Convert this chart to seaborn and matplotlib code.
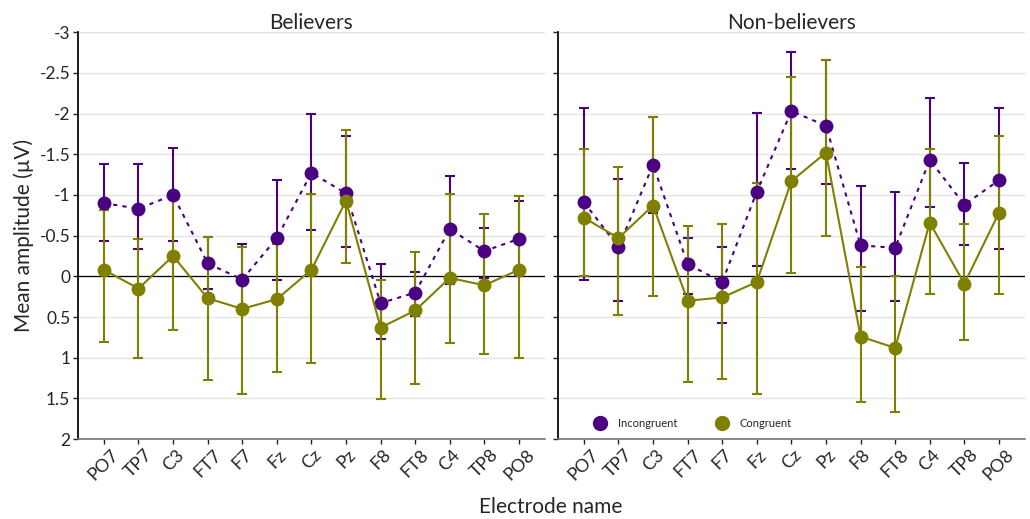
import numpy as np
import pandas as pd
import matplotlib
matplotlib.use("Agg")
import matplotlib.pyplot as plt
import seaborn as sns

electrodes = ["PO7", "TP7", "C3", "FT7", "F7", "Fz", "Cz", "Pz", "F8", "FT8", "C4", "TP8", "PO8"]

# Believers
bel_incong = [-0.90, -0.83, -1.00, -0.16, 0.04, -0.47, -1.27, -1.02, 0.33, 0.20, -0.58, -0.31, -0.46]
bel_incong_lo = [-1.38, -1.38, -1.58, -0.48, -0.40, -1.18, -2.00, -1.72, -0.15, -0.05, -1.23, -0.59, -0.93]
bel_incong_hi = [-0.44, -0.34, -0.44, 0.15, 0.45, 0.05, -0.57, -0.36, 0.77, 0.49, 0.10, 0.02, 0.00]
bel_cong = [-0.08, 0.15, -0.25, 0.27, 0.40, 0.28, -0.08, -0.93, 0.63, 0.42, 0.02, 0.11, -0.08]
bel_cong_lo = [-0.82, -0.46, -1.04, -0.48, -0.36, -0.40, -1.01, -1.80, 0.04, -0.30, -1.01, -0.76, -0.99]
bel_cong_hi = [0.81, 1.00, 0.66, 1.27, 1.45, 1.17, 1.06, -0.16, 1.51, 1.32, 0.82, 0.95, 1.00]

# Non-believers
non_incong = [-0.91, -0.36, -1.37, -0.15, 0.07, -1.04, -2.03, -1.85, -0.38, -0.35, -1.43, -0.88, -1.18]
non_incong_lo = [-2.07, -1.19, -1.96, -0.47, -0.36, -2.01, -2.76, -2.66, -1.11, -1.03, -2.19, -1.39, -2.07]
non_incong_hi = [0.05, 0.30, -0.78, 0.22, 0.57, -0.13, -1.32, -1.13, 0.43, 0.30, -0.85, -0.38, -0.33]
non_cong = [-0.72, -0.47, -0.87, 0.30, 0.26, 0.07, -1.17, -1.52, 0.74, 0.88, -0.66, 0.09, -0.78]
non_cong_lo = [-1.57, -1.34, -1.96, -0.62, -0.64, -1.15, -2.45, -2.66, -0.11, -0.01, -1.56, -0.64, -1.72]
non_cong_hi = [0.00, 0.47, 0.24, 1.30, 1.26, 1.44, -0.04, -0.49, 1.55, 1.67, 0.22, 0.78, 0.22]

panels = [
    ("Believers", bel_incong, bel_incong_lo, bel_incong_hi, bel_cong, bel_cong_lo, bel_cong_hi),
    ("Non-believers", non_incong, non_incong_lo, non_incong_hi, non_cong, non_cong_lo, non_cong_hi),
]

purple = "#4b0082"
olive = "#808000"

sns.set_theme(style="white")
plt.rcParams["font.family"] = ["Lato", "DejaVu Sans"]

fig, axes = plt.subplots(1, 2, figsize=(10.3, 5.19), dpi=100, sharey=True)
fig.subplots_adjust(left=0.0757, right=0.995, top=0.938, bottom=0.154, wspace=0.028)

yticks = [-3, -2.5, -2, -1.5, -1, -0.5, 0, 0.5, 1, 1.5, 2]

for ax, (title, inc, inc_lo, inc_hi, con, con_lo, con_hi) in zip(axes, panels):
    df = pd.DataFrame({
        "Electrode": electrodes * 2,
        "Amplitude": inc + con,
        "Condition": ["Incongruent"] * len(electrodes) + ["Congruent"] * len(electrodes),
    })
    for yv in yticks:
        ax.axhline(yv, color="#e3e3e3", lw=1, zorder=0)
    ax.axhline(0, color="black", lw=0.9, zorder=1)

    x = np.arange(len(electrodes))
    inc_a, con_a = np.array(inc), np.array(con)
    ax.errorbar(x, inc_a, yerr=[inc_a - np.array(inc_lo), np.array(inc_hi) - inc_a],
                fmt="none", ecolor=purple, elinewidth=1.5, capsize=3.5, capthick=1.5, zorder=2)
    ax.errorbar(x, con_a, yerr=[con_a - np.array(con_lo), np.array(con_hi) - con_a],
                fmt="none", ecolor=olive, elinewidth=1.5, capsize=3.5, capthick=1.5, zorder=2)

    sns.lineplot(data=df[df.Condition == "Incongruent"], x="Electrode", y="Amplitude",
                 color=purple, linestyle=(0, (2, 2.5)), lw=1.5, marker="o", markersize=10,
                 markeredgewidth=0, ax=ax, zorder=3, sort=False)
    sns.lineplot(data=df[df.Condition == "Congruent"], x="Electrode", y="Amplitude",
                 color=olive, linestyle="-", lw=1.5, marker="o", markersize=10,
                 markeredgewidth=0, ax=ax, zorder=4, sort=False)

    ax.set_title(title, fontsize=15, pad=2)
    ax.set_xlabel("")
    ax.set_ylabel("")
    ax.set_xticks(x)
    ax.set_xticklabels(electrodes, rotation=45, fontsize=13)
    ax.set_xlim(-0.75, 12.75)
    ax.set_ylim(2, -3)
    ax.set_yticks(yticks)
    ax.set_yticklabels(["%g" % v for v in yticks], fontsize=12.5)
    ax.tick_params(axis="both", length=3.5, width=1, color="#222222", pad=2, left=True, bottom=True)
    sns.despine(ax=ax)
    ax.spines["left"].set_color("black")
    ax.spines["bottom"].set_color("#777777")
    ax.spines["bottom"].set_linewidth(1.2)

axes[0].set_ylabel("Mean amplitude (µV)", fontsize=15)
fig.text(0.535, 0.012, "Electrode name", ha="center", fontsize=15)

handles = [
    plt.Line2D([], [], color=purple, marker="o", linestyle="none", markersize=10),
    plt.Line2D([], [], color=olive, marker="o", linestyle="none", markersize=10),
]
axes[1].legend(handles, ["Incongruent", "Congruent"], loc="lower left", ncol=2, frameon=False,
               fontsize=8, bbox_to_anchor=(0.045, 0.0), handletextpad=0.6, columnspacing=3)

plt.savefig("out.png", dpi=100)
